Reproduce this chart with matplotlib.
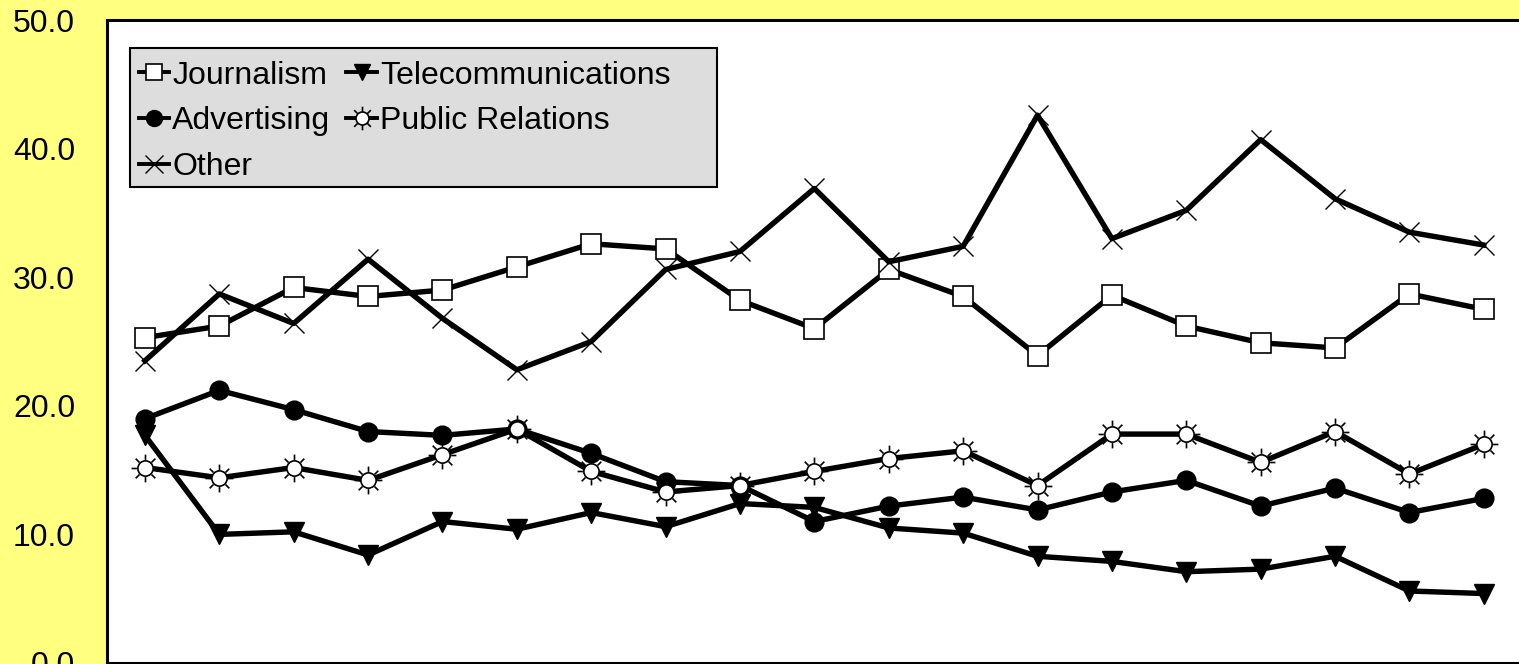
import matplotlib.pyplot as plt
import matplotlib
import numpy as np
from matplotlib.path import Path
from matplotlib.patches import Rectangle

matplotlib.rcParams['font.family'] = 'Liberation Sans'

# values, 19 periods
journalism = [25.3, 26.2, 29.2, 28.5, 29.0, 30.8, 32.6, 32.2, 28.2, 26.0,
              30.6, 28.5, 23.9, 28.6, 26.2, 24.9, 24.5, 28.7, 27.5]
telecom = [17.7, 10.0, 10.2, 8.4, 11.0, 10.4, 11.7, 10.6, 12.4, 12.1,
           10.5, 10.1, 8.3, 7.9, 7.1, 7.3, 8.3, 5.6, 5.4]
advertising = [19.0, 21.2, 19.7, 18.0, 17.7, 18.2, 16.3, 14.1, 13.8, 11.0,
               12.2, 12.9, 11.9, 13.3, 14.2, 12.2, 13.6, 11.7, 12.8]
public_rel = [15.2, 14.4, 15.2, 14.2, 16.2, 18.2, 14.9, 13.3, 13.8, 14.9,
              15.9, 16.5, 13.8, 17.8, 17.8, 15.6, 18.0, 14.7, 17.0]
other = [23.5, 28.7, 26.4, 31.4, 26.8, 22.8, 25.0, 30.6, 32.0, 36.9,
         31.2, 32.4, 42.6, 33.0, 35.2, 40.7, 36.1, 33.5, 32.5]
yticks = [0, 10, 20, 30, 40, 50]

x = np.arange(len(journalism))

# sun marker: circle with 8 short rays
circ = Path.unit_circle()
verts = [tuple(v * 0.55) for v in circ.vertices]
codes = list(circ.codes)
for a in np.linspace(0, 2 * np.pi, 8, endpoint=False):
    verts += [(0.62 * np.cos(a), 0.62 * np.sin(a)), (np.cos(a), np.sin(a))]
    codes += [Path.MOVETO, Path.LINETO]
sun = Path(verts, codes)

fig = plt.figure(figsize=(15.19, 6.64), dpi=100)
fig.patch.set_facecolor('#FFFF80')
ax = fig.add_axes([107 / 1519, 1 / 664, 1414 / 1519, 643 / 664])

lw = 3.9
ax.plot(x, journalism, color='k', lw=lw, marker='s', ms=14, mfc='white', mec='k', mew=1.2, label='Journalism')
ax.plot(x, advertising, color='k', lw=lw, marker='o', ms=13.5, mfc='k', mec='k', label='Advertising')
ax.plot(x, other, color='k', lw=lw, marker='x', ms=15, mec='k', mew=1.0, label='Other')
ax.plot(x, telecom, color='k', lw=lw, marker='v', ms=14, mfc='k', mec='k', label='Telecommunications')
ax.plot(x, public_rel, color='k', lw=lw, marker=sun, ms=20, mfc='white', mec='k', mew=1.2, label='Public Relations')

ax.set_xlim(-0.51, 18.5)
ax.set_ylim(0, 50)
ax.set_yticks(yticks)
ax.set_yticklabels(['{:.1f}'.format(v) for v in yticks], fontsize=23)
ax.set_xticks([])
ax.tick_params(axis='y', length=0, pad=23)
for s in ax.spines.values():
    s.set_linewidth(2.2)

# legend box drawn by hand so its size matches
box = Rectangle((0.0163, 0.7403), 0.415, 0.2162, transform=ax.transAxes,
                facecolor='#DDDDDD', edgecolor='k', lw=1.5, zorder=4.9)
ax.add_patch(box)
leg = ax.legend(loc='upper left', bbox_to_anchor=(0.0225, 0.937), ncol=2, fontsize=23,
                frameon=False, handlelength=0.95, handletextpad=0.1, columnspacing=0.5,
                labelspacing=0.5, borderpad=0, borderaxespad=0, markerscale=0.85)
for line in leg.get_lines():
    line.set_linewidth(2.8)

plt.savefig('out.png', dpi=100, facecolor=fig.get_facecolor())
